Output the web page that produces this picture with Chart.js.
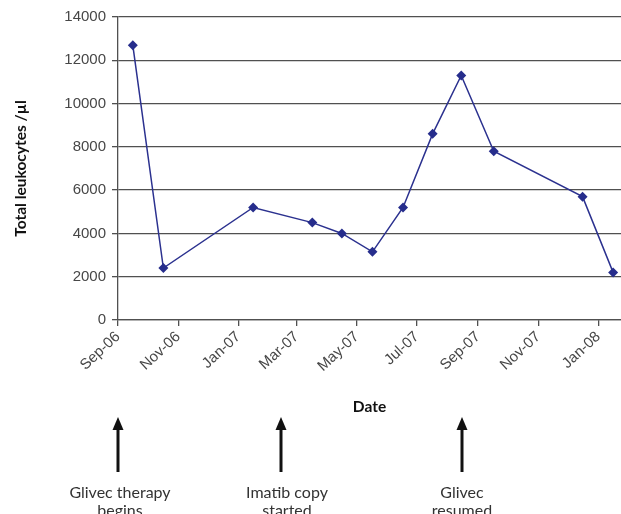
<!DOCTYPE html>
<html>
<head>
<meta charset="utf-8">
<script src="https://cdn.jsdelivr.net/npm/chart.js@4/dist/chart.umd.min.js"></script>
<style>
  html, body { margin: 0; padding: 0; background: #fff; }
  #wrap { width: 621px; height: 514px; }
</style>
</head>
<body>
<div id="wrap"><canvas id="grafico-leucocitos"></canvas></div>
<script>
/* Leukocyte counts over time, with treatment events marked below the axis */

// Sampling dates and counts
const sampleDates = [
  '2006-09-16', '2006-10-17', '2007-01-16', '2007-03-17', '2007-04-16', '2007-05-17',
  '2007-06-17', '2007-07-17', '2007-08-15', '2007-09-17', '2007-12-16', '2008-01-16'
];
const leukocytes = [12700, 2400, 5200, 4500, 4000, 3150, 5200, 8600, 11300, 7800, 5700, 2200];

// Date axis ticks
const tickDates = [
  '2006-09-01', '2006-11-01', '2007-01-01', '2007-03-01', '2007-05-01',
  '2007-07-01', '2007-09-01', '2007-11-01', '2008-01-01'
];
const tickLabels = ['Sep-06', 'Nov-06', 'Jan-07', 'Mar-07', 'May-07', 'Jul-07', 'Sep-07', 'Nov-07', 'Jan-08'];
const axisStart = '2006-09-01';
const axisEnd = '2008-01-24';

// Value axis
const yMin = 0;
const yMax = 14000;
const yStep = 2000;

// Treatment events (arrows under the chart)
const eventDates = ['2006-09-01', '2007-02-13', '2007-08-16'];
const eventLabels = [['Glivec therapy', 'begins'], ['Imatib copy', 'started'], ['Glivec', 'resumed']];

/**
 * Converte 'AAAA-MM-DD' em número de dias (UTC), usado pela escala linear.
 */
function toDay(s) {
  const [y, m, d] = s.split('-').map(Number);
  return Date.UTC(y, m - 1, d) / 86400000;
}

const gridColor = '#505050';
const tickColor = '#474747';
const tickFont = { family: '"Liberation Sans", Arial, sans-serif', size: 15 };
const titleFont = { family: 'Lato, "Liberation Sans", sans-serif', size: 15.5, weight: 'bold' };

/**
 * Desenha as setas e os textos dos eventos de tratamento abaixo do eixo.
 */
const eventArrows = {
  id: 'eventArrows',
  afterDraw(chart) {
    const ctx = chart.ctx;
    const xScale = chart.scales.x;
    const textShift = [2, 6, 0];
    ctx.save();
    eventDates.forEach((d, i) => {
      const px = Math.round(xScale.getPixelForValue(toDay(d)));
      ctx.strokeStyle = '#111';
      ctx.fillStyle = '#111';
      ctx.lineWidth = 3;
      ctx.beginPath();
      ctx.moveTo(px, 472);
      ctx.lineTo(px, 427);
      ctx.stroke();
      ctx.beginPath();
      ctx.moveTo(px, 417);
      ctx.lineTo(px - 5.5, 430);
      ctx.lineTo(px + 5.5, 430);
      ctx.closePath();
      ctx.fill();

      ctx.font = '16px Lato, "Liberation Sans", sans-serif';
      ctx.textAlign = 'center';
      ctx.textBaseline = 'alphabetic';
      ctx.fillStyle = '#333';
      eventLabels[i].forEach((t, j) => {
        ctx.fillText(t, px + textShift[i], 498 + j * 18);
      });
    });
    ctx.restore();
  }
};

const ctx = document.getElementById('grafico-leucocitos');

new Chart(ctx, {
  type: 'line',
  data: {
    datasets: [{
      data: sampleDates.map((d, i) => ({ x: toDay(d), y: leukocytes[i] })),
      borderColor: '#2b318f',
      backgroundColor: '#262d8c',
      borderWidth: 1.5,
      pointStyle: 'rectRot',
      pointRadius: 5,
      pointBorderWidth: 0,
      tension: 0,
      clip: 8
    }]
  },
  options: {
    responsive: true,
    maintainAspectRatio: false,
    animation: false,
    devicePixelRatio: 1,
    layout: { autoPadding: false, padding: { top: 17, left: 0, right: 0, bottom: 0 } },
    plugins: {
      legend: { display: false },
      tooltip: { enabled: false }
    },
    scales: {
      x: {
        type: 'linear',
        min: toDay(axisStart),
        max: toDay(axisEnd),
        afterBuildTicks(scale) {
          scale.ticks = tickDates.map(d => ({ value: toDay(d) }));
        },
        afterFit(scale) {
          scale.height = 194;
          scale.paddingRight = 0;
        },
        ticks: {
          autoSkip: false,
          minRotation: 43,
          maxRotation: 43,
          padding: 2,
          color: tickColor,
          font: tickFont,
          callback: (v) => {
            const idx = tickDates.findIndex(d => toDay(d) === v);
            return idx >= 0 ? tickLabels[idx] : '';
          }
        },
        grid: { drawOnChartArea: false, drawTicks: true, tickLength: 6, color: gridColor, lineWidth: 1.3 },
        border: { display: true, color: gridColor, width: 1.3 },
        title: {
          display: true,
          text: 'Date',
          color: '#111',
          font: titleFont,
          padding: { top: 0, bottom: 98 }
        }
      },
      y: {
        min: yMin,
        max: yMax,
        afterFit(scale) {
          scale.width = 118;
        },
        ticks: {
          stepSize: yStep,
          padding: 6,
          color: tickColor,
          font: tickFont,
          callback: (v) => String(v)
        },
        grid: { color: gridColor, lineWidth: 1.3, tickLength: 6 },
        border: { display: true, color: gridColor, width: 1.3 },
        title: {
          display: true,
          text: 'Total leukocytes /µl',
          color: '#111',
          font: titleFont,
          padding: { top: 12, bottom: 0 }
        }
      }
    }
  },
  plugins: [eventArrows]
});
</script>
</body>
</html>
